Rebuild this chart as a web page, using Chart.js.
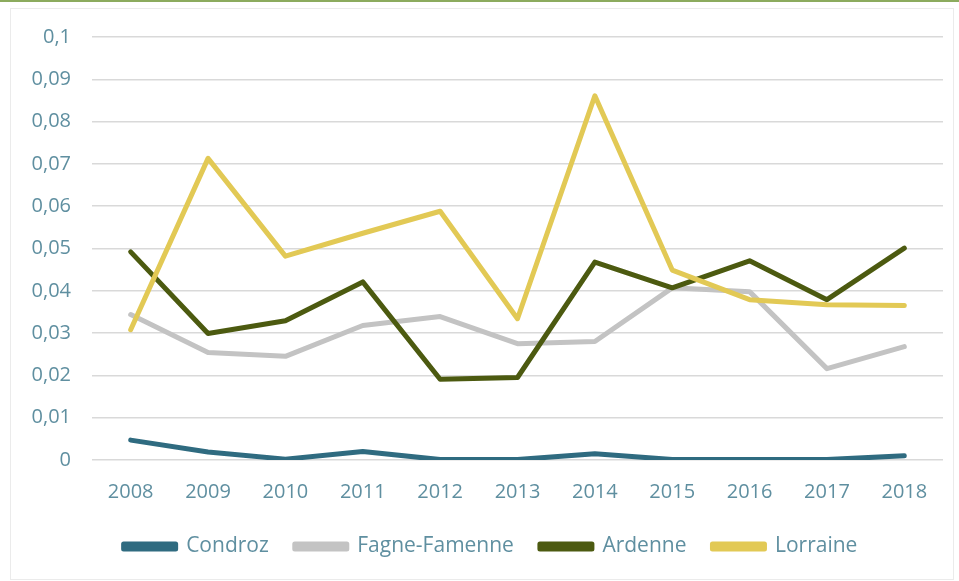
<!DOCTYPE html>
<html>
<head>
<meta charset="utf-8">
<script src="https://cdn.jsdelivr.net/npm/chart.js@4/dist/chart.umd.min.js"></script>
<style>
  html, body { margin: 0; padding: 0; background: #ffffff; }
  #wrap { position: relative; width: 959px; height: 581px; overflow: hidden; background: #fff; }
  #topline { position: absolute; left: 0; top: 0; width: 959px; height: 2px; background: #8cab5e; }
  #frame { position: absolute; left: 10px; top: 8px; width: 944px; height: 572px; border: 1px solid #ebebeb; box-sizing: border-box; }
  #c { position: absolute; left: 0; top: 0; }
</style>
</head>
<body>
<div id="wrap">
  <div id="topline"></div>
  <div id="frame"></div>
  <canvas id="c" width="959" height="581"></canvas>
</div>
<script>
const years = ['2008','2009','2010','2011','2012','2013','2014','2015','2016','2017','2018'];
const yTickLabels = ['0','0,01','0,02','0,03','0,04','0,05','0,06','0,07','0,08','0,09','0,1'];
const condroz      = [0.0047, 0.0019, 0.0002, 0.0020, 0.0001, 0.0001, 0.0015, 0.0001, 0.0001, 0.0001, 0.0010];
const fagneFamenne = [0.0344, 0.0254, 0.0245, 0.0318, 0.0339, 0.0275, 0.0280, 0.0407, 0.0398, 0.0216, 0.0268];
const ardenne      = [0.0492, 0.0299, 0.0329, 0.0421, 0.0191, 0.0195, 0.0468, 0.0407, 0.0471, 0.0379, 0.0501];
const lorraine     = [0.0308, 0.0713, 0.0482, 0.0536, 0.0588, 0.0334, 0.0861, 0.0449, 0.0379, 0.0367, 0.0365];
const seriesNames  = ['Condroz', 'Fagne-Famenne', 'Ardenne', 'Lorraine'];

const colors = ['#2f6b80', '#c3c3c3', '#4c5a10', '#e2c955'];
const seriesData = [condroz, fagneFamenne, ardenne, lorraine];
const FONT = 'Open Sans';
const tickColor = '#5f8fa0';

const datasets = seriesData.map((d, i) => ({
  label: seriesNames[i],
  data: d,
  borderColor: colors[i],
  backgroundColor: colors[i],
  borderWidth: 5,
  pointRadius: 0,
  pointHoverRadius: 0,
  tension: 0,
  fill: false,
  borderJoinStyle: 'round',
  borderCapStyle: 'round',
  order: seriesData.length - i
}));

const shiftLegend = {
  id: 'shiftLegend',
  afterLayout(chart) {
    if (chart.legend) { chart.legend.left += 13; chart.legend.right += 13; }
  }
};

new Chart(document.getElementById('c'), {
  type: 'line',
  data: { labels: years, datasets },
  plugins: [shiftLegend],
  options: {
    responsive: false,
    animation: false,
    devicePixelRatio: 1,
    layout: { padding: { left: 12, right: 16, top: 37, bottom: 14 } },
    plugins: {
      title: { display: false },
      tooltip: { enabled: false },
      legend: {
        position: 'bottom',
        labels: {
          font: { family: FONT, size: 21 },
          color: tickColor,
          boxWidth: 52,
          boxHeight: 5,
          padding: 26,
          sort: (a, b) => a.datasetIndex - b.datasetIndex
        }
      }
    },
    scales: {
      x: {
        offset: true,
        grid: { display: false, drawTicks: false },
        border: { display: false },
        afterFit: (s) => { s.height = s.height - 14; },
        ticks: { font: { family: FONT, size: 20 }, color: tickColor, padding: 20, maxRotation: 0 }
      },
      y: {
        min: 0,
        max: 0.1,
        grid: { color: '#d9d9d9', lineWidth: 1.5, drawTicks: false },
        border: { display: false },
        afterFit: (s) => { s.width = 80; },
        ticks: {
          stepSize: 0.01,
          font: { family: FONT, size: 20 },
          color: tickColor,
          padding: 21,
          callback: (v, idx) => yTickLabels[idx]
        }
      }
    }
  }
});
</script>
</body>
</html>
